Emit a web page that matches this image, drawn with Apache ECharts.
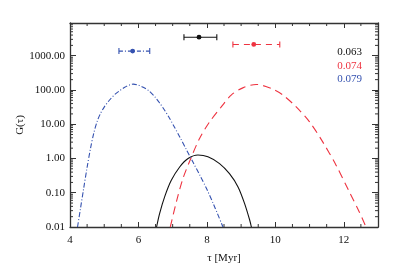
<!DOCTYPE html>
<html>
<head>
<meta charset="utf-8">
<script src="https://cdn.jsdelivr.net/npm/echarts@6/dist/echarts.min.js"></script>
<style>html,body{margin:0;padding:0;background:#fff}#c{width:399px;height:273px}</style>
</head>
<body>
<div id="c"></div>
<script>
// ---- data ----
var blueCurve = [[4.22,0.01],[4.30,0.0316],[4.40,0.135],[4.50,0.55],[4.60,2.0],[4.70,5.75],[4.80,12.6],[4.90,21.4],[5.00,31.6],[5.15,50],[5.31,74],[5.45,95],[5.60,120],[5.75,141],[5.85,148],[6.00,138],[6.14,120],[6.30,95],[6.48,63],[6.62,41.7],[6.75,26.9],[6.90,15.5],[7.05,8.3],[7.20,4.4],[7.40,1.82],[7.60,0.76],[7.80,0.316],[8.00,0.126],[8.20,0.0447],[8.47,0.01]];
var redCurve = [[6.93,0.01],[7.11,0.055],[7.30,0.26],[7.55,1.12],[7.79,3.9],[8.08,11.7],[8.42,32],[8.71,71],[9.05,115],[9.44,145],[9.88,110],[10.22,71],[10.61,32],[11.0,11.7],[11.38,3.1],[11.77,0.65],[12.16,0.107],[12.45,0.028],[12.65,0.01]];
var blackCurve = [[6.53,0.01],[6.62,0.025],[6.77,0.078],[6.96,0.23],[7.21,0.575],[7.45,1.0],[7.74,1.26],[8.03,1.12],[8.37,0.71],[8.66,0.36],[8.91,0.148],[9.10,0.049],[9.25,0.016],[9.30,0.01]];
// error bars: [centre, low, high, G]
var blackErr = [[7.77,7.33,8.29,3470]];
var redErr = [[9.37,8.76,10.13,2130]];
var blueErr = [[5.83,5.43,6.33,1360]];
var seriesNames = ['0.063','0.074','0.079'];
var xMajorTicks = [4,6,8,10,12];
var xMinorTicks = [4.5,5,5.5,6.5,7,7.5,8.5,9,9.5,10.5,11,11.5,12.5];
var yMajorTicks = [0.01,0.1,1,10,100,1000];
var yMinorTicks = [0.02,0.03,0.04,0.05,0.06,0.07,0.08,0.09,0.2,0.3,0.4,0.5,0.6,0.7,0.8,0.9,2,3,4,5,6,7,8,9,20,30,40,50,60,70,80,90,200,300,400,500,600,700,800,900,2000,3000,4000,5000,6000,7000,8000];

var FONT = 'Liberation Serif';
var AX = '#333';
var BLACK = '#111', RED = '#ee3340', BLUE = '#3552b0';

function xAx(pos) {
  var main = pos === 'bottom';
  return {
    type: 'value', min: 4, max: 13, position: pos,
    axisLine: {show: true, lineStyle: {color: AX, width: 1.3}},
    axisTick: {show: true, inside: true, length: 5, customValues: xMajorTicks, lineStyle: {color: AX, width: 1}},
    axisLabel: {show: main, customValues: xMajorTicks, margin: 8, color: '#111', fontFamily: FONT, fontSize: 11},
    splitLine: {show: false},
    name: main ? 'τ [Myr]' : '',
    nameLocation: 'middle', nameGap: 26,
    nameTextStyle: {color: '#111', fontFamily: FONT, fontSize: 11}
  };
}
function yAx(pos) {
  var main = pos === 'left';
  return {
    type: 'log', logBase: 10, min: 0.01, max: 9000, position: pos,
    axisLine: {show: true, lineStyle: {color: AX, width: 1.3}},
    axisTick: {show: true, inside: true, length: 6, customValues: yMajorTicks, lineStyle: {color: AX, width: 1}},
    axisLabel: {show: main, customValues: yMajorTicks, margin: 5, color: '#111', fontFamily: FONT, fontSize: 11,
      formatter: function (v) { return Number(v).toFixed(2); }},
    splitLine: {show: false},
    name: main ? 'G(τ)' : '',
    nameLocation: 'middle', nameGap: 44, nameRotate: 90, nameMoveOverlap: false,
    nameTextStyle: {color: '#111', fontFamily: FONT, fontSize: 11}
  };
}

// minor ticks drawn through the axis scales
function minorTickSeries(values, isX, len) {
  var data = values.map(function (v) { return isX ? [v, 1] : [4, v]; });
  return {
    type: 'custom', data: data, silent: true, z: 3, clip: false,
    renderItem: function (params, api) {
      var cs = params.coordSys;
      var st = {stroke: AX, lineWidth: 1};
      if (isX) {
        var x = api.coord([api.value(0), 1])[0];
        return {type: 'group', children: [
          {type: 'line', shape: {x1: x, y1: cs.y + cs.height, x2: x, y2: cs.y + cs.height - len}, style: st},
          {type: 'line', shape: {x1: x, y1: cs.y, x2: x, y2: cs.y + len}, style: st}
        ]};
      }
      var y = api.coord([4, api.value(1)])[1];
      return {type: 'group', children: [
        {type: 'line', shape: {x1: cs.x, y1: y, x2: cs.x + len, y2: y}, style: st},
        {type: 'line', shape: {x1: cs.x + cs.width, y1: y, x2: cs.x + cs.width - len, y2: y}, style: st}
      ]};
    }
  };
}

function errSeries(data, color, dash) {
  return {
    type: 'custom', data: data, silent: true, z: 5,
    renderItem: function (params, api) {
      var g = api.value(3);
      var c = api.coord([api.value(0), g]);
      var lo = api.coord([api.value(1), g]);
      var hi = api.coord([api.value(2), g]);
      var h = 3;
      return {type: 'group', children: [
        {type: 'line', shape: {x1: lo[0], y1: c[1], x2: hi[0], y2: c[1]}, style: {stroke: color, lineWidth: 1.1, lineDash: dash}},
        {type: 'line', shape: {x1: lo[0], y1: c[1] - h, x2: lo[0], y2: c[1] + h}, style: {stroke: color, lineWidth: 1.1}},
        {type: 'line', shape: {x1: hi[0], y1: c[1] - h, x2: hi[0], y2: c[1] + h}, style: {stroke: color, lineWidth: 1.1}},
        {type: 'circle', shape: {cx: c[0], cy: c[1], r: 2.4}, style: {fill: color}}
      ]};
    }
  };
}
function curve(name, data, color, dash) {
  return {
    name: name, type: 'line', data: data,
    showSymbol: false, smooth: 0.3, silent: true,
    lineStyle: {color: color, width: 1.1, type: dash}
  };
}

var chart = echarts.init(document.getElementById('c'), null, {renderer: 'canvas'});
chart.setOption({
  animation: false,
  backgroundColor: '#fff',
  grid: {left: 70, right: 21, top: 23, bottom: 46},
  xAxis: [xAx('bottom'), xAx('top')],
  yAxis: [yAx('left'), yAx('right')],
  graphic: [
    {type: 'text', right: 37, top: 47, style: {text: seriesNames[0], fill: BLACK, font: '11px "Liberation Serif"'}},
    {type: 'text', right: 37, top: 60.5, style: {text: seriesNames[1], fill: RED, font: '11px "Liberation Serif"'}},
    {type: 'text', right: 37, top: 74, style: {text: seriesNames[2], fill: BLUE, font: '11px "Liberation Serif"'}}
  ],
  series: [
    curve(seriesNames[0], blackCurve, BLACK, 'solid'),
    curve(seriesNames[1], redCurve, RED, [8, 5]),
    curve(seriesNames[2], blueCurve, BLUE, [5, 2, 1, 2]),
    errSeries(blackErr, BLACK, null),
    errSeries(redErr, RED, [6, 5]),
    errSeries(blueErr, BLUE, [4, 2, 1, 2]),
    minorTickSeries(xMinorTicks, true, 3),
    minorTickSeries(yMinorTicks, false, 3)
  ]
});
</script>
</body>
</html>
